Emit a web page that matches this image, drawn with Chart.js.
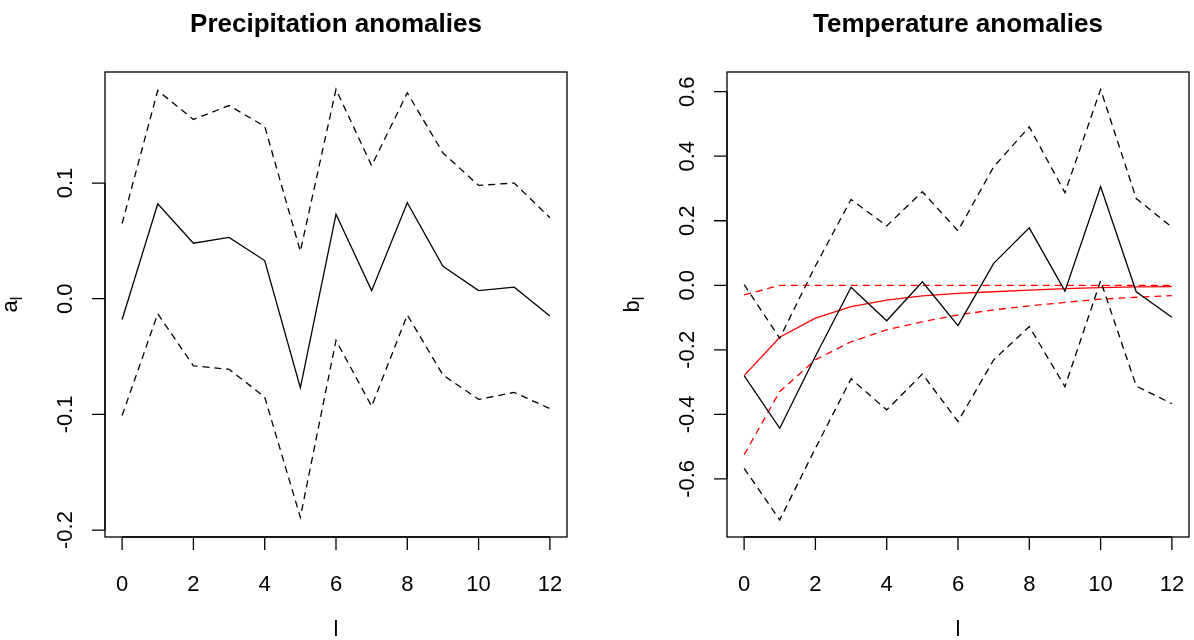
<!DOCTYPE html>
<html>
<head>
<meta charset="utf-8">
<title>Anomalies</title>
<script src="https://cdn.jsdelivr.net/npm/chart.js@4.4.1/dist/chart.umd.min.js"></script>
<style>
  body { margin: 0; background: #ffffff; }
  #wrap { position: relative; width: 1194px; height: 640px; }
  #wrap canvas { position: absolute; top: 0; }
</style>
</head>
<body>
<div id="wrap">
  <canvas id="precipChart" width="597" height="640" style="left:0px"></canvas>
  <canvas id="tempChart" width="597" height="640" style="left:597px"></canvas>
</div>
<script>
// lags l = 0..12
const lags = [0, 1, 2, 3, 4, 5, 6, 7, 8, 9, 10, 11, 12];

// precipitation coefficients a_l with confidence band
const precipEst   = [-0.018, 0.082, 0.048, 0.053, 0.033, -0.077, 0.073, 0.007, 0.083, 0.028, 0.007, 0.010, -0.015];
const precipUpper = [0.065, 0.180, 0.155, 0.167, 0.149, 0.041, 0.181, 0.115, 0.178, 0.126, 0.098, 0.100, 0.070];
const precipLower = [-0.101, -0.013, -0.058, -0.061, -0.085, -0.189, -0.036, -0.093, -0.014, -0.066, -0.087, -0.081, -0.095];

// temperature coefficients b_l with confidence band
const tempEst   = [-0.280, -0.443, -0.220, -0.006, -0.110, 0.011, -0.125, 0.068, 0.178, -0.018, 0.306, -0.020, -0.099];
const tempUpper = [0.002, -0.164, 0.060, 0.266, 0.184, 0.290, 0.169, 0.367, 0.491, 0.287, 0.607, 0.269, 0.180];
const tempLower = [-0.567, -0.727, -0.505, -0.290, -0.386, -0.275, -0.422, -0.231, -0.128, -0.314, 0.014, -0.312, -0.367];

// fitted decay curve (red) with band
const fitEst   = [-0.280, -0.161, -0.102, -0.066, -0.046, -0.033, -0.025, -0.020, -0.015, -0.010, -0.007, -0.005, -0.004];
const fitUpper = [-0.030, 0.000, 0.000, 0.000, 0.000, 0.000, 0.000, 0.000, 0.000, 0.000, 0.000, 0.000, 0.000];
const fitLower = [-0.525, -0.329, -0.231, -0.175, -0.138, -0.113, -0.092, -0.076, -0.064, -0.053, -0.043, -0.037, -0.032];

// axis ticks
const lagTicks = [0, 2, 4, 6, 8, 10, 12];
const precipTicks = [-0.2, -0.1, 0.0, 0.1];
const tempTicks = [-0.6, -0.4, -0.2, 0.0, 0.2, 0.4, 0.6];

const FONT = '"Liberation Sans", Arial, Helvetica, sans-serif';
const DASH = [7, 5];

function series(values, color, dashed) {
  return {
    data: lags.map((l, i) => ({ x: l, y: values[i] })),
    borderColor: color,
    borderWidth: 1.3,
    borderDash: dashed ? DASH : [],
    pointRadius: 0,
    tension: 0,
    fill: false
  };
}

// R style box, axes, titles and labels
const baseGraphics = {
  id: 'baseGraphics',
  afterDraw(chart, args, opts) {
    const { ctx, chartArea: a, scales: { x, y } } = chart;
    ctx.save();
    ctx.strokeStyle = '#000';
    ctx.fillStyle = '#000';
    ctx.lineWidth = 1.3;

    // box
    ctx.strokeRect(a.left, a.top, a.right - a.left, a.bottom - a.top);

    // x axis
    const x0 = x.getPixelForValue(lagTicks[0]);
    const x1 = x.getPixelForValue(lagTicks[lagTicks.length - 1]);
    ctx.beginPath();
    ctx.moveTo(x0, a.bottom);
    ctx.lineTo(x1, a.bottom);
    lagTicks.forEach(t => {
      const px = x.getPixelForValue(t);
      ctx.moveTo(px, a.bottom);
      ctx.lineTo(px, a.bottom + 13);
    });
    ctx.stroke();
    ctx.font = `22px ${FONT}`;
    ctx.textAlign = 'center';
    ctx.textBaseline = 'alphabetic';
    lagTicks.forEach(t => {
      ctx.fillText(String(t), x.getPixelForValue(t), a.bottom + 54);
    });

    // y axis
    const ticks = opts.yTicks;
    const y0 = y.getPixelForValue(ticks[0]);
    const y1 = y.getPixelForValue(ticks[ticks.length - 1]);
    ctx.beginPath();
    ctx.moveTo(a.left, y0);
    ctx.lineTo(a.left, y1);
    ticks.forEach(t => {
      const py = y.getPixelForValue(t);
      ctx.moveTo(a.left, py);
      ctx.lineTo(a.left - 13, py);
    });
    ctx.stroke();
    ticks.forEach(t => {
      const py = y.getPixelForValue(t);
      ctx.save();
      ctx.translate(a.left - 33, py);
      ctx.rotate(-Math.PI / 2);
      ctx.fillText(t.toFixed(1), 0, 0);
      ctx.restore();
    });

    // title
    const cx = (a.left + a.right) / 2;
    const cy = (a.top + a.bottom) / 2;
    ctx.font = `bold 26px ${FONT}`;
    ctx.fillText(opts.title, cx, 32);

    // x label
    ctx.font = `22px ${FONT}`;
    ctx.fillText('l', cx, 636);

    // y label with subscript l
    ctx.save();
    ctx.translate(a.left - 88, cy);
    ctx.rotate(-Math.PI / 2);
    ctx.font = `22px ${FONT}`;
    const mainW = ctx.measureText(opts.yMain).width;
    ctx.font = `16px ${FONT}`;
    const subW = ctx.measureText('l').width;
    const startX = -(mainW + subW) / 2;
    ctx.textAlign = 'left';
    ctx.font = `22px ${FONT}`;
    ctx.fillText(opts.yMain, startX, 0);
    ctx.font = `16px ${FONT}`;
    ctx.fillText('l', startX + mainW, 5);
    ctx.restore();

    ctx.restore();
  }
};

function makePanel(canvasId, datasets, cfg) {
  return new Chart(document.getElementById(canvasId), {
    type: 'line',
    data: { datasets },
    options: {
      responsive: false,
      animation: false,
      events: [],
      layout: {
        autoPadding: false,
        padding: { top: cfg.top, right: cfg.right, left: 0, bottom: 0 }
      },
      plugins: {
        legend: { display: false },
        tooltip: { enabled: false },
        title: { display: false },
        baseGraphics: { title: cfg.title, yTicks: cfg.yTicks, yMain: cfg.yMain }
      },
      scales: {
        x: {
          type: 'linear',
          min: -0.48,
          max: 12.48,
          grid: { display: false },
          border: { display: false },
          ticks: { display: false },
          afterFit: s => { s.height = cfg.bottomSpace; }
        },
        y: {
          type: 'linear',
          min: cfg.yMin,
          max: cfg.yMax,
          grid: { display: false },
          border: { display: false },
          ticks: { display: false },
          afterFit: s => { s.width = cfg.leftSpace; }
        }
      }
    },
    plugins: [baseGraphics]
  });
}

makePanel('precipChart', [
  series(precipEst, '#000000', false),
  series(precipUpper, '#000000', true),
  series(precipLower, '#000000', true)
], {
  title: 'Precipitation anomalies',
  yMain: 'a',
  yTicks: precipTicks,
  yMin: -0.206,
  yMax: 0.196,
  top: 72,
  right: 30,
  leftSpace: 105,
  bottomSpace: 103
});

makePanel('tempChart', [
  series(tempEst, '#000000', false),
  series(tempUpper, '#000000', true),
  series(tempLower, '#000000', true),
  series(fitEst, '#ff0000', false),
  series(fitUpper, '#ff0000', true),
  series(fitLower, '#ff0000', true)
], {
  title: 'Temperature anomalies',
  yMain: 'b',
  yTicks: tempTicks,
  yMin: -0.780,
  yMax: 0.661,
  top: 72,
  right: 5,
  leftSpace: 130,
  bottomSpace: 103
});
</script>
</body>
</html>
